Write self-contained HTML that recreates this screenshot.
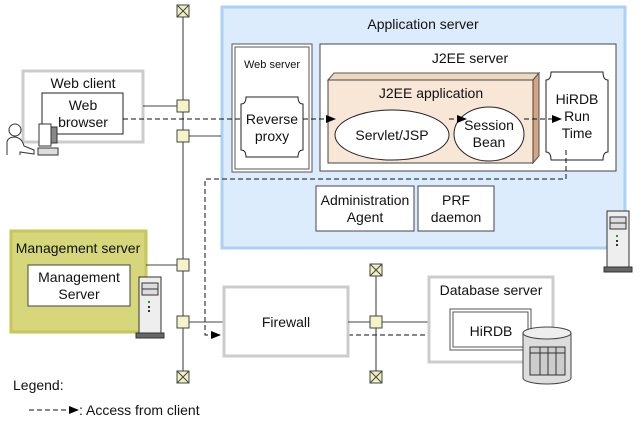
<!DOCTYPE html>
<html><head><meta charset="utf-8"><style>
body{margin:0;background:#fff}
svg text{font-family:"Liberation Sans",sans-serif;font-size:14px;fill:#111}
</style></head><body>
<svg width="643" height="427" viewBox="0 0 643 427" xmlns="http://www.w3.org/2000/svg">
<defs>
<marker id="ar" markerWidth="10" markerHeight="8" refX="9" refY="4" orient="auto" markerUnits="userSpaceOnUse"><path d="M0,0 L10,4 L0,8 z" fill="#000"/></marker>
<g id="term"><rect x="-6" y="-6" width="12" height="12" fill="#f0f0c0" stroke="#444"/><path d="M-6,-6 L6,6 M6,-6 L-6,6" stroke="#444"/></g>
<rect id="sq" x="-6" y="-6" width="12" height="12" fill="#f4f4c8" stroke="#444"/>
<g id="srv"><rect x="0" y="0" width="22" height="56" fill="#eee" stroke="#333"/><rect x="3" y="6" width="16" height="12" fill="#ddd" stroke="#333"/><line x1="3" y1="12" x2="19" y2="12" stroke="#333"/><rect x="9" y="24" width="2" height="2" fill="#383"/><rect x="9" y="29" width="2" height="2" fill="#333"/><rect x="9" y="33" width="2" height="2" fill="#333"/><rect x="-3" y="56" width="28" height="5" fill="#666" stroke="#333"/></g>
</defs>
<rect x="222" y="7" width="403" height="241" fill="#dcecfc" stroke="#aad2f4" stroke-width="3"/>
<text x="423" y="29" text-anchor="middle">Application server</text>
<line x1="183" y1="16" x2="183" y2="372" stroke="#333"/>
<use href="#term" x="183" y="11"/><use href="#term" x="183" y="377"/>
<rect x="23" y="71" width="120" height="71" fill="#fff" stroke="#ccc" stroke-width="3"/>
<text x="83" y="88" text-anchor="middle">Web client</text>
<rect x="42" y="93" width="81" height="41" fill="#fff" stroke="#222"/>
<text x="83" y="110" text-anchor="middle">Web</text><text x="83" y="127" text-anchor="middle">browser</text>
<line x1="143" y1="106" x2="177" y2="106" stroke="#444"/>
<line x1="189" y1="136" x2="221" y2="136" stroke="#444"/>
<use href="#sq" x="183" y="106"/><use href="#sq" x="183" y="136"/>
<circle cx="15" cy="130" r="6" fill="#fff" stroke="#333"/>
<path d="M7,155 L7,142 Q8,137 15,137 Q22,138 24,146 L34,150 L34,154 L20,152 L20,155" fill="#fff" stroke="#333"/>
<rect x="39" y="124" width="12" height="22" fill="#fff" stroke="#333"/><rect x="51" y="127" width="6" height="16" fill="#888" stroke="#333"/>
<rect x="38" y="148" width="20" height="7" fill="#ddd" stroke="#333"/>
<rect x="232" y="44" width="80" height="128" fill="#fff" stroke="#555"/>
<rect x="235" y="47" width="74" height="122" fill="none" stroke="#555"/>
<text x="272" y="68" text-anchor="middle" style="font-size:11px">Web server</text>
<path d="M246,97 L298,97 Q298,104 303,104 L303,150 Q298,150 298,157 L246,157 Q246,150 241,150 L241,104 Q246,104 246,97 z" fill="#fff" stroke="#222"/>
<text x="272" y="124" text-anchor="middle">Reverse</text><text x="272" y="141" text-anchor="middle">proxy</text>
<rect x="320" y="44" width="296" height="127" fill="#fff" stroke="#444"/>
<text x="470" y="63" text-anchor="middle">J2EE server</text>
<path d="M328,80 L334,73 L539,73 L533,80 z" fill="#f0d8c0" stroke="#555"/>
<path d="M533,80 L539,73 L539,156 L533,163 z" fill="#d4a580" stroke="#555"/>
<rect x="328" y="80" width="205" height="83" fill="#f8e6d6" stroke="#444"/>
<text x="431" y="98" text-anchor="middle">J2EE application</text>
<ellipse cx="392" cy="135" rx="57" ry="25" fill="#fff" stroke="#222"/>
<text x="392" y="140" text-anchor="middle">Servlet/JSP</text>
<ellipse cx="489" cy="134" rx="35" ry="27" fill="#fff" stroke="#222"/>
<text x="489" y="130" text-anchor="middle">Session</text><text x="489" y="147" text-anchor="middle">Bean</text>
<path d="M551,72 L603,72 Q603,80 608,80 L608,152 Q603,152 603,160 L551,160 Q551,152 546,152 L546,80 Q551,80 551,72 z" fill="#fff" stroke="#222"/>
<text x="577" y="104" text-anchor="middle">HiRDB</text><text x="577" y="121" text-anchor="middle">Run</text><text x="577" y="138" text-anchor="middle">Time</text>
<rect x="316" y="186" width="98" height="45" fill="#fff" stroke="#444"/>
<text x="365" y="205" text-anchor="middle">Administration</text><text x="365" y="222" text-anchor="middle">Agent</text>
<rect x="418" y="186" width="76" height="45" fill="#fff" stroke="#444"/>
<text x="456" y="205" text-anchor="middle">PRF</text><text x="456" y="222" text-anchor="middle">daemon</text>
<use href="#srv" x="607" y="211"/>
<g stroke="#111" stroke-dasharray="5,3" fill="none">
<line x1="123" y1="119" x2="241" y2="119"/>
<line x1="303" y1="119" x2="335" y2="119" marker-end="url(#ar)"/>
<line x1="449" y1="119" x2="466" y2="119" marker-end="url(#ar)"/>
<line x1="524" y1="119" x2="561" y2="119" marker-end="url(#ar)"/>
<polyline points="566,150 566,179 205,179 205,335 220,335" marker-end="url(#ar)"/>
<line x1="348" y1="335" x2="447" y2="335" marker-end="url(#ar)"/>
<line x1="29" y1="410" x2="78" y2="410" marker-end="url(#ar)"/>
</g>
<rect x="11" y="231" width="135" height="101" fill="#d6d67a" stroke="#c6c65a" stroke-width="3"/>
<text x="78" y="253" text-anchor="middle">Management server</text>
<rect x="28" y="265" width="102" height="41" fill="#fff" stroke="#444"/>
<text x="79" y="282" text-anchor="middle">Management</text><text x="79" y="299" text-anchor="middle">Server</text>
<use href="#srv" x="139" y="277"/>
<line x1="146" y1="265" x2="177" y2="265" stroke="#444"/>
<use href="#sq" x="183" y="265"/>
<line x1="189" y1="322" x2="224" y2="322" stroke="#444"/>
<use href="#sq" x="183" y="322"/>
<rect x="224" y="287" width="124" height="69" fill="#fff" stroke="#ccc" stroke-width="3"/>
<text x="286" y="327" text-anchor="middle">Firewall</text>
<line x1="376" y1="274" x2="376" y2="372" stroke="#333"/>
<use href="#term" x="376" y="270"/><use href="#term" x="376" y="377"/>
<line x1="348" y1="322" x2="429" y2="322" stroke="#444"/>
<use href="#sq" x="376" y="322"/>
<rect x="429" y="277" width="124" height="85" fill="#fff" stroke="#ccc" stroke-width="3"/>
<text x="491" y="295" text-anchor="middle">Database server</text>
<rect x="450" y="309" width="81" height="41" fill="#fff" stroke="#555"/>
<rect x="453" y="312" width="75" height="35" fill="none" stroke="#555"/>
<text x="491" y="336" text-anchor="middle">HiRDB</text>
<path d="M523,333 L523,378 A24,6 0 0 0 571,378 L571,333" fill="#ddd" stroke="#444"/>
<ellipse cx="547" cy="333" rx="24" ry="6" fill="#eee" stroke="#444"/>
<rect x="530" y="347" width="35" height="28" fill="#ccc" stroke="#333"/>
<path d="M530,353 L565,353 M540,347 L540,375 M548,347 L548,375 M556,347 L556,375" stroke="#333"/>
<text x="13" y="390">Legend:</text>
<text x="79" y="415">: Access from client</text>
</svg>
</body></html>
